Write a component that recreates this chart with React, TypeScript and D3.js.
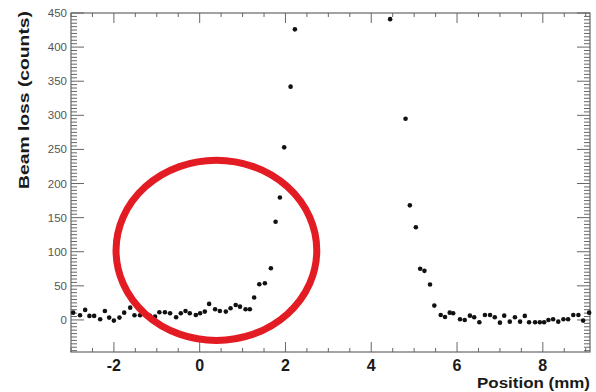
import React from "react";
import * as d3 from "d3";

// Position (mm) of each measurement
const positions: number[] = [
  -2.95, -2.79, -2.67, -2.57, -2.46, -2.32, -2.21, -2.11, -2.0, -1.87, -1.76, -1.62, -1.52, -1.39,
  -1.28, -1.16, -1.04, -0.94, -0.81, -0.69, -0.55, -0.44, -0.33, -0.23, -0.09, 0.01, 0.12, 0.22,
  0.36, 0.47, 0.61, 0.72, 0.84, 0.94, 1.07, 1.17, 1.27, 1.39, 1.52, 1.66, 1.77, 1.87, 1.97, 2.12, 2.22,
  4.44, 4.8, 4.9, 5.04, 5.14, 5.24, 5.37, 5.47, 5.62, 5.72, 5.83, 5.91, 6.07, 6.18, 6.3, 6.4, 6.52,
  6.65, 6.77, 6.88, 7.0, 7.1, 7.23, 7.35, 7.47, 7.58, 7.68, 7.82, 7.93, 8.03, 8.13, 8.24, 8.36, 8.48,
  8.59, 8.71, 8.83, 8.94, 9.08,
];
// Beam loss (counts)
const counts: number[] = [
  10.7, 6.9, 14.7, 5.9, 5.9, 1.0, 13.2, 3.4, -1, 3.4, 10.7, 18, 6.9, 6.9,
  9, 6, 4.8, 11.3, 11.3, 9.8, 4.0, 9.8, 13.2, 9.8, 7.3, 9.8, 12.2, 23.5,
  15.7, 13.2, 12.2, 17.2, 22, 19.5, 15.7, 15.7, 33, 52.3, 53.8, 75.8, 144, 179.6, 253, 342, 426,
  441, 295, 168, 136, 75, 72, 52, 21, 7.3, 4.4, 10.7, 9.8, 1, 0, 6.3, 4, -3.4,
  7.3, 7.3, 4, -4, 6.3, -2.5, 4, -2.5, 5.9, -3.4, -3.4, -3.4, -3.4, 0, 1, -2.5, 1,
  1, 7.3, 7.3, -1, 10.7,
];

const xTickLabels: number[] = [-2, 0, 2, 4, 6, 8];
const yTickLabels: number[] = [0, 50, 100, 150, 200, 250, 300, 350, 400, 450];
const xDomain: [number, number] = [-3, 9.1];
const yDomain: [number, number] = [-47, 450];
// highlight ellipse (data units): center x, center y, radius x (mm), radius y (counts)
const highlight = { cx: 0.39, cy: 102, rx: 2.34, ry: 132 };

const W = 596;
const H = 392;
const L = 71, R = 590, T = 13, B = 352;
const FONT = "'Liberation Sans', Arial, Helvetica, sans-serif";

export default function App() {
  const x = d3.scaleLinear().domain(xDomain).range([L, R]);
  const y = d3.scaleLinear().domain(yDomain).range([B, T]);

  const xMinor = d3.range(-3, 9.1, 0.5).filter((v) => v >= xDomain[0] && v <= xDomain[1]);
  const yMinor = d3.range(-45, 451, 5);
  const axisColor = "#666";

  const pts = positions.map((p, i) => ({ p, c: counts[i] }));

  return (
    <svg width={W} height={H} style={{ position: "absolute", left: 0, top: 0, background: "#fff" }}>
      <rect x={0} y={0} width={W} height={H} fill="#fff" />
      {/* frame */}
      <rect x={L} y={T} width={R - L} height={B - T} fill="none" stroke={axisColor} strokeWidth={1.2} />
      {/* x ticks bottom and top */}
      {xMinor.map((v) => {
        const major = Math.abs(v / 2 - Math.round(v / 2)) < 1e-6;
        const len = major ? 10 : 4;
        return (
          <g key={"xt" + v}>
            <line x1={x(v)} x2={x(v)} y1={B} y2={B - len} stroke={axisColor} strokeWidth={1} />
            <line x1={x(v)} x2={x(v)} y1={T} y2={T + len} stroke={axisColor} strokeWidth={1} />
          </g>
        );
      })}
      {/* y ticks left and right */}
      {yMinor.map((v) => {
        const major = v % 50 === 0;
        const len = major ? 13 : 6;
        return (
          <g key={"yt" + v}>
            <line x1={L} x2={L + len} y1={y(v)} y2={y(v)} stroke={axisColor} strokeWidth={1} />
            <line x1={R} x2={R - len} y1={y(v)} y2={y(v)} stroke={axisColor} strokeWidth={1} />
          </g>
        );
      })}
      {/* x tick labels */}
      {xTickLabels.map((v) => (
        <text key={"xl" + v} x={x(v)} y={371} textAnchor="middle" fontFamily={FONT} fontWeight="bold"
          fontSize={16} fill="#1a1a1a">
          {v}
        </text>
      ))}
      {/* y tick labels */}
      {yTickLabels.map((v) => (
        <text key={"yl" + v} x={67} y={y(v) + 4} textAnchor="end" fontFamily={FONT}
          fontSize={11.5} fill="#555">
          {v}
        </text>
      ))}
      {/* axis titles */}
      <text x={590} y={388} textAnchor="end" fontFamily={FONT} fontWeight="bold" fontSize={14}
        fill="#1a1a1a" textLength={113} lengthAdjust="spacingAndGlyphs">
        Position (mm)
      </text>
      <text transform={`translate(29,11) rotate(-90)`} textAnchor="end" fontFamily={FONT}
        fontWeight="bold" fontSize={15} fill="#1a1a1a" textLength={178} lengthAdjust="spacingAndGlyphs">
        Beam loss (counts)
      </text>
      {/* data points */}
      {pts
        .filter((d) => d.c <= yDomain[1])
        .map((d, i) => (
          <circle key={"p" + i} cx={x(d.p)} cy={y(d.c)} r={2.3} fill="#111" />
        ))}
      {/* highlight ellipse */}
      <ellipse
        cx={x(highlight.cx)}
        cy={y(highlight.cy)}
        rx={x(highlight.cx + highlight.rx) - x(highlight.cx)}
        ry={y(highlight.cy - highlight.ry) - y(highlight.cy)}
        fill="none"
        stroke="#e31b23"
        strokeWidth={7}
      />
    </svg>
  );
}
